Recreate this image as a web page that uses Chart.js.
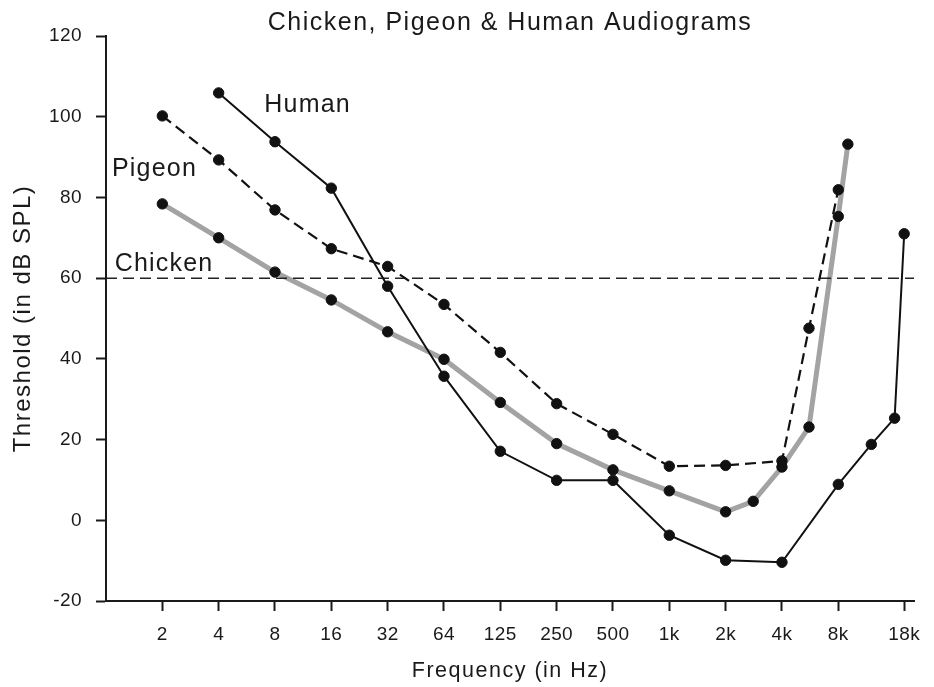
<!DOCTYPE html>
<html>
<head>
<meta charset="utf-8">
<style>
html,body{margin:0;padding:0;background:#fff}
#wrap{width:934px;height:687px}
</style>
<script src="https://cdn.jsdelivr.net/npm/chart.js@4.4.1/dist/chart.umd.min.js"></script>
</head>
<body>
<div id="wrap"><canvas id="c" width="934" height="687"></canvas></div>
<script>
// ---- data (frequency in Hz on a log2 grid where "1k" = 1024, threshold in dB SPL) ----
const tickFreqs  = [2, 4, 8, 16, 32, 64, 128, 256, 512, 1024, 2048, 4096, 8192, 18432];
const tickLabels = ['2', '4', '8', '16', '32', '64', '125', '250', '500', '1k', '2k', '4k', '8k', '18k'];

const humanFreq = [4, 8, 16, 32, 64, 128, 256, 512, 1024, 2048, 4096, 8192, 12300, 16384, 18432];
const humanDb   = [105.9, 93.8, 82.3, 58.0, 35.7, 17.1, 9.9, 9.9, -3.7, -9.9, -10.4, 8.9, 18.8, 25.3, 71.0];

const pigeonFreq = [2, 4, 8, 16, 32, 64, 128, 256, 512, 1024, 2048, 4096, 5713, 8192];
const pigeonDb   = [100.2, 89.3, 76.9, 67.3, 62.9, 53.5, 41.6, 28.9, 21.3, 13.4, 13.6, 14.7, 47.6, 81.9];

const chickenFreq = [2, 4, 8, 16, 32, 64, 128, 256, 512, 1024, 2048, 2876, 4096, 5713, 8192, 9216];
const chickenDb   = [78.4, 70.0, 61.5, 54.6, 46.7, 39.9, 29.2, 19.0, 12.5, 7.3, 2.1, 4.7, 13.2, 23.1, 75.3, 93.2];

const referenceDb = 60;
const freqRange = [1, 20800];

const seriesNames = ['Human', 'Pigeon', 'Chicken'];
const labelAnchorFreq = [7.02, 1.076, 1.112];
const labelAnchorDb   = [101.2, 85.4, 61.7];

// ---- chart ----
const FONT = '"Liberation Sans", Arial, Helvetica, sans-serif';
const INK = '#1a1a1a';
Chart.defaults.font.family = FONT;
Chart.defaults.color = INK;

const toXY = (xs, ys) => xs.map((x, i) => ({x: x, y: ys[i]}));

// wider tracking for titles, tighter for tick labels (tick labels drawn after datasets, z = 1)
const spacingPlugin = {
  id: 'spacing',
  beforeLayout(chart) { chart.ctx.letterSpacing = '1.5px'; },
  beforeDraw(chart) { chart.ctx.letterSpacing = '1.5px'; },
  beforeDatasetsDraw(chart) { chart.ctx.letterSpacing = '0.4px'; }
};

const seriesLabelPlugin = {
  id: 'seriesLabels',
  afterDraw(chart) {
    const {ctx, scales} = chart;
    ctx.save();
    ctx.letterSpacing = '1.2px';
    ctx.font = '25px ' + FONT;
    ctx.fillStyle = INK;
    ctx.textAlign = 'left';
    ctx.textBaseline = 'alphabetic';
    seriesNames.forEach((name, i) => {
      ctx.fillText(name, scales.x.getPixelForValue(labelAnchorFreq[i]), scales.y.getPixelForValue(labelAnchorDb[i]));
    });
    ctx.restore();
  }
};

const pointStyle = {
  pointRadius: 5.2,
  pointHoverRadius: 5.2,
  pointBackgroundColor: '#111',
  pointBorderColor: '#111',
  pointBorderWidth: 1,
  tension: 0,
  fill: false
};

new Chart(document.getElementById('c'), {
  type: 'line',
  data: {
    datasets: [
      Object.assign({label: 'Human', data: toXY(humanFreq, humanDb), borderColor: '#111', borderWidth: 2}, pointStyle),
      Object.assign({label: 'Pigeon', data: toXY(pigeonFreq, pigeonDb), borderColor: '#111', borderWidth: 2.2, borderDash: [11, 6]}, pointStyle),
      {label: '60 dB', data: toXY(freqRange, [referenceDb, referenceDb]), borderColor: '#222', borderWidth: 1.5, borderDash: [11, 6], pointRadius: 0, pointHoverRadius: 0, fill: false},
      Object.assign({label: 'Chicken', data: toXY(chickenFreq, chickenDb), borderColor: '#a3a3a3', borderWidth: 5}, pointStyle)
    ]
  },
  options: {
    responsive: false,
    animation: false,
    events: [],
    layout: {padding: {left: 0, right: 19, top: 0, bottom: 0}},
    plugins: {
      legend: {display: false},
      tooltip: {enabled: false},
      title: {
        display: true,
        text: 'Chicken, Pigeon & Human Audiograms',
        fullSize: false,
        color: INK,
        font: {size: 25, weight: 'normal', lineHeight: 1},
        padding: {top: 11, bottom: 0}
      }
    },
    scales: {
      x: {
        type: 'logarithmic',
        min: freqRange[0],
        max: freqRange[1],
        afterBuildTicks(scale) { scale.ticks = tickFreqs.map(v => ({value: v})); },
        afterFit(scale) { scale.height = 86; },
        ticks: {
          z: 1,
          autoSkip: false, maxRotation: 0, minRotation: 0,
          padding: 12,
          color: INK,
          font: {size: 19},
          callback: (v, i) => tickLabels[i]
        },
        grid: {display: true, drawOnChartArea: false, drawTicks: true, tickLength: 10, tickWidth: 2, tickColor: INK},
        border: {display: true, color: INK, width: 2},
        title: {display: true, text: 'Frequency (in Hz)', color: INK, font: {size: 21.5}, padding: {top: 0, bottom: 3}}
      },
      y: {
        type: 'linear',
        min: -20,
        max: 120,
        afterFit(scale) { scale.width = 106; },
        ticks: {z: 1, stepSize: 20, padding: 14, color: INK, font: {size: 19}},
        grid: {display: true, drawOnChartArea: false, drawTicks: true, tickLength: 10, tickWidth: 2, tickColor: INK},
        border: {display: true, color: INK, width: 2},
        title: {display: true, text: 'Threshold (in dB SPL)', color: INK, font: {size: 24}, padding: {top: 9, bottom: 0}}
      }
    }
  },
  plugins: [spacingPlugin, seriesLabelPlugin]
});
</script>
</body>
</html>
